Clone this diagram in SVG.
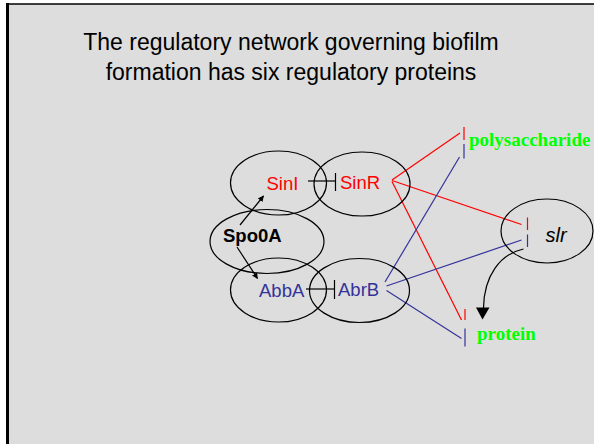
<svg xmlns="http://www.w3.org/2000/svg" width="594" height="444" viewBox="0 0 594 444">
<defs>
<style>
.ell{fill:none;stroke:#000;stroke-width:1.2}
.lbl{font-family:"Liberation Sans",Arial,sans-serif;font-size:18.5px}
.red{stroke:#ff0000;stroke-width:1.2;fill:none}
.blue{stroke:#333399;stroke-width:1.2;fill:none}
.blk{stroke:#000;stroke-width:1.2;fill:none}
.out{font-family:"Liberation Serif","Times New Roman",serif;font-weight:bold;font-size:19px;fill:#00ff00}
</style>
<marker id="arr" viewBox="0 0 10 10" refX="9" refY="5" markerWidth="6" markerHeight="6" markerUnits="userSpaceOnUse" orient="auto">
<path d="M0,0 L10,5 L0,10 z" fill="#000"/>
</marker>
</defs>
<rect x="0" y="0" width="594" height="444" fill="#ffffff"/>
<rect x="7" y="4" width="587" height="440" fill="#dddddd"/>
<line x1="7.5" y1="3" x2="7.5" y2="444" stroke="#000" stroke-width="3"/>
<line x1="6" y1="4" x2="594" y2="4" stroke="#000" stroke-width="1.5"/>
<g id="title" font-family="'Liberation Sans',Arial,sans-serif" font-size="23" fill="#000" text-anchor="middle">
<text x="291" y="50">The regulatory network governing biofilm</text>
<text x="291" y="80">formation has six regulatory proteins</text>
</g>
<g id="connectors">
<line class="blk" x1="308" y1="181" x2="335" y2="181"/>
<line class="blk" x1="335.5" y1="173" x2="335.5" y2="191"/>
<line class="blk" x1="306" y1="289" x2="334" y2="289"/>
<line class="blk" x1="334.5" y1="280" x2="334.5" y2="299"/>
<line class="blk" x1="240" y1="225" x2="263.5" y2="196" marker-end="url(#arr)"/>
<line class="blk" x1="237" y1="247" x2="257.5" y2="278.5" marker-end="url(#arr)"/>
<line class="red" x1="392" y1="180" x2="460" y2="133"/>
<line class="red" x1="464" y1="127" x2="464" y2="140"/>
<line class="red" x1="392" y1="180.5" x2="521.5" y2="224.5"/>
<line class="red" x1="527.5" y1="217.5" x2="527.5" y2="230"/>
<line class="red" x1="392" y1="181.5" x2="461.5" y2="320"/>
<line class="red" x1="465" y1="309" x2="465" y2="320"/>
<line class="blue" x1="385" y1="282" x2="459.5" y2="157"/>
<line class="blue" x1="464" y1="144" x2="464" y2="158.5"/>
<line class="blue" x1="386.5" y1="286" x2="521.5" y2="240"/>
<line class="blue" x1="527.5" y1="234.5" x2="527.5" y2="247"/>
<line class="blue" x1="386.5" y1="290.5" x2="461.5" y2="338.5"/>
<line class="blue" x1="465" y1="328.5" x2="465" y2="346.5"/>
<path class="blk" d="M523.5,249 C500,254 484,276 483.5,308"/>
<path d="M476,307.5 L489.5,307.5 L482.5,319.5 z" fill="#000"/>
</g>
<g id="SinI">
<ellipse class="ell" cx="278.5" cy="183" rx="48" ry="32"/>
<text class="lbl" x="266.5" y="189.5" fill="#ff0000">SinI</text>
</g>
<g id="SinR">
<ellipse class="ell" cx="362" cy="184" rx="48" ry="32"/>
<text class="lbl" x="340" y="188.5" fill="#ff0000">SinR</text>
</g>
<g id="Spo0A">
<ellipse class="ell" cx="267" cy="241.5" rx="57" ry="32"/>
<text class="lbl" x="223" y="242" font-weight="bold" fill="#000">Spo0A</text>
</g>
<g id="AbbA">
<ellipse class="ell" cx="278.5" cy="290" rx="48" ry="32"/>
<text class="lbl" x="259" y="296.5" fill="#333399">AbbA</text>
</g>
<g id="AbrB">
<ellipse class="ell" cx="359.5" cy="290.5" rx="50" ry="32"/>
<text class="lbl" x="338" y="296" fill="#333399">AbrB</text>
</g>
<g id="slr">
<ellipse class="ell" cx="547" cy="231" rx="46" ry="32"/>
<text x="545.5" y="242" font-family="'Liberation Sans',Arial,sans-serif" font-size="20" font-style="italic" fill="#000">slr</text>
</g>
<g id="polysaccharide">
<text class="out" x="469" y="146">polysaccharide</text>
</g>
<g id="protein">
<text class="out" x="477" y="340">protein</text>
</g>
</svg>
